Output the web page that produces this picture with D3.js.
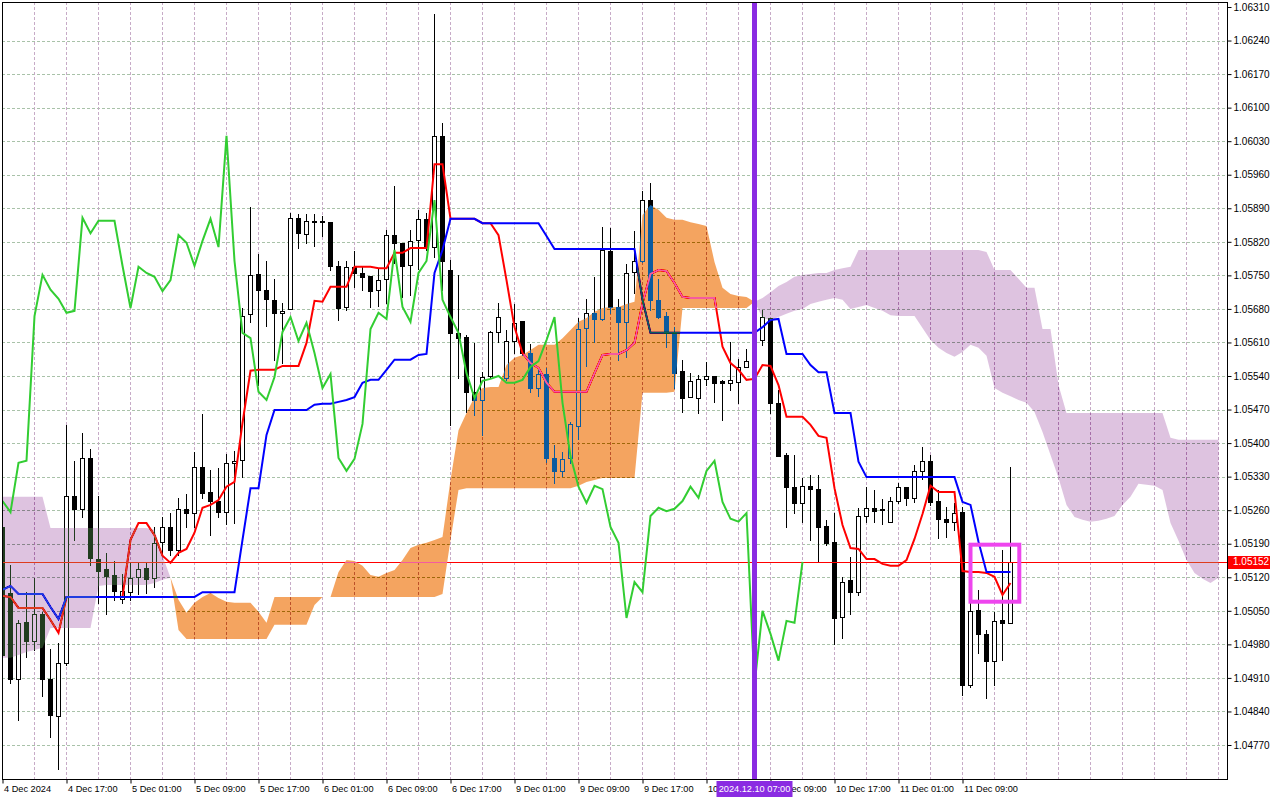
<!DOCTYPE html>
<html>
<head>
<meta charset="utf-8">
<script src="https://cdn.jsdelivr.net/npm/d3@7"></script>
<style>
  html, body { margin: 0; padding: 0; background: #fff; }
  svg { display: block; }
</style>
</head>
<body>
<div id="chart"></div>
<script>
// EURUSD H1 from 4 Dec 2024 09:00, one value per bar (127 bars)
const opens = [
  1.05225, 1.05087, 1.04908, 1.05027, 1.04987, 1.05044, 1.04908, 1.04831, 1.04941, 1.05290,
  1.05263, 1.05369, 1.05158, 1.05137, 1.05125, 1.05075, 1.05089, 1.05121, 1.05140, 1.05119,
  1.05194, 1.05225, 1.05177, 1.05263, 1.05254, 1.05350, 1.05298, 1.05279, 1.05256, 1.05359,
  1.05365, 1.05670, 1.05753, 1.05720, 1.05699, 1.05672, 1.05680, 1.05870, 1.05836, 1.05861,
  1.05861, 1.05861, 1.05770, 1.05684, 1.05768, 1.05755, 1.05749, 1.05720, 1.05743, 1.05834,
  1.05818, 1.05772, 1.05824, 1.05868, 1.05809, 1.06041, 1.05761, 1.05630, 1.05622, 1.05507,
  1.05490, 1.05540, 1.05632, 1.05536, 1.05613, 1.05655, 1.05588, 1.05515, 1.05544, 1.05369,
  1.05342, 1.05369, 1.05436, 1.05640, 1.05672, 1.05659, 1.05801, 1.05684, 1.05653, 1.05757,
  1.05780, 1.05907, 1.05699, 1.05665, 1.05632, 1.05551, 1.05496, 1.05494, 1.05534, 1.05540,
  1.05530, 1.05526, 1.05528, 1.05559, 1.05571, 1.05615, 1.05661, 1.05484, 1.05375, 1.05309,
  1.05275, 1.05311, 1.05304, 1.05227, 1.05194, 1.05037, 1.05115, 1.05089, 1.05248, 1.05265,
  1.05261, 1.05236, 1.05279, 1.05309, 1.05286, 1.05342, 1.05363, 1.05279, 1.05242, 1.05236,
  1.05256, 1.04895, 1.05052, 1.05002, 1.04946, 1.05031, 1.05025
];
const highs = [
  1.05236, 1.05146, 1.05031, 1.05089, 1.05119, 1.05048, 1.04971, 1.04983, 1.05438, 1.05363,
  1.05421, 1.05388, 1.05290, 1.05171, 1.05154, 1.05127, 1.05152, 1.05152, 1.05152, 1.05225,
  1.05246, 1.05254, 1.05286, 1.05294, 1.05382, 1.05461, 1.05344, 1.05348, 1.05377, 1.05384,
  1.05682, 1.05893, 1.05795, 1.05780, 1.05743, 1.05692, 1.05880, 1.05878, 1.05878, 1.05878,
  1.05874, 1.05861, 1.05780, 1.05780, 1.05801, 1.05768, 1.05749, 1.05765, 1.05845, 1.05937,
  1.05818, 1.05845, 1.05887, 1.05880, 1.06295, 1.06068, 1.05782, 1.05751, 1.05626, 1.05609,
  1.05548, 1.05634, 1.05692, 1.05636, 1.05690, 1.05655, 1.05607, 1.05559, 1.05557, 1.05396,
  1.05382, 1.05444, 1.05661, 1.05701, 1.05747, 1.05851, 1.05849, 1.05701, 1.05774, 1.05843,
  1.05926, 1.05943, 1.05743, 1.05674, 1.05642, 1.05574, 1.05546, 1.05542, 1.05569, 1.05540,
  1.05532, 1.05611, 1.05576, 1.05597, 1.05630, 1.05678, 1.05661, 1.05511, 1.05379, 1.05375,
  1.05327, 1.05334, 1.05334, 1.05240, 1.05254, 1.05121, 1.05163, 1.05265, 1.05309, 1.05302,
  1.05284, 1.05288, 1.05317, 1.05309, 1.05355, 1.05392, 1.05375, 1.05302, 1.05267, 1.05275,
  1.05267, 1.05094, 1.05094, 1.05010, 1.05048, 1.05177, 1.05350
];
const lows = [
  1.04906, 1.04900, 1.04822, 1.04954, 1.04968, 1.04873, 1.04787, 1.04720, 1.04937, 1.05198,
  1.05246, 1.05146, 1.05067, 1.05044, 1.05073, 1.05067, 1.05073, 1.05085, 1.05087, 1.05100,
  1.05171, 1.05167, 1.05167, 1.05225, 1.05225, 1.05286, 1.05208, 1.05246, 1.05231, 1.05233,
  1.05329, 1.05653, 1.05521, 1.05645, 1.05574, 1.05567, 1.05680, 1.05807, 1.05818, 1.05811,
  1.05832, 1.05761, 1.05657, 1.05678, 1.05726, 1.05720, 1.05684, 1.05686, 1.05692, 1.05776,
  1.05705, 1.05709, 1.05763, 1.05803, 1.05788, 1.05720, 1.05438, 1.05536, 1.05465, 1.05459,
  1.05417, 1.05536, 1.05611, 1.05532, 1.05588, 1.05584, 1.05507, 1.05498, 1.05361, 1.05317,
  1.05332, 1.05359, 1.05409, 1.05561, 1.05611, 1.05657, 1.05672, 1.05574, 1.05580, 1.05713,
  1.05778, 1.05678, 1.05661, 1.05601, 1.05515, 1.05465, 1.05496, 1.05463, 1.05521, 1.05486,
  1.05448, 1.05511, 1.05484, 1.05559, 1.05548, 1.05605, 1.05463, 1.05373, 1.05225, 1.05254,
  1.05236, 1.05198, 1.05152, 1.05188, 1.04981, 1.04994, 1.05044, 1.05083, 1.05236, 1.05236,
  1.05231, 1.05236, 1.05275, 1.05271, 1.05277, 1.05325, 1.05271, 1.05202, 1.05204, 1.05219,
  1.04875, 1.04891, 1.04962, 1.04868, 1.04895, 1.04948, 1.05025
];
const closes = [
  1.04958, 1.04908, 1.05025, 1.04987, 1.05044, 1.04908, 1.04833, 1.04941, 1.05290, 1.05263,
  1.05369, 1.05160, 1.05133, 1.05123, 1.05092, 1.05092, 1.05119, 1.05137, 1.05117, 1.05192,
  1.05225, 1.05177, 1.05263, 1.05254, 1.05350, 1.05296, 1.05279, 1.05256, 1.05359, 1.05363,
  1.05665, 1.05751, 1.05720, 1.05701, 1.05672, 1.05676, 1.05870, 1.05838, 1.05864, 1.05864,
  1.05864, 1.05770, 1.05682, 1.05768, 1.05755, 1.05747, 1.05717, 1.05740, 1.05834, 1.05818,
  1.05770, 1.05822, 1.05868, 1.05809, 1.06041, 1.05780, 1.05630, 1.05619, 1.05507, 1.05490,
  1.05538, 1.05632, 1.05663, 1.05613, 1.05651, 1.05588, 1.05515, 1.05544, 1.05369, 1.05342,
  1.05367, 1.05440, 1.05638, 1.05672, 1.05659, 1.05803, 1.05684, 1.05653, 1.05755, 1.05780,
  1.05907, 1.05699, 1.05663, 1.05630, 1.05546, 1.05494, 1.05530, 1.05534, 1.05540, 1.05526,
  1.05526, 1.05532, 1.05559, 1.05571, 1.05615, 1.05663, 1.05484, 1.05373, 1.05309, 1.05275,
  1.05311, 1.05304, 1.05225, 1.05192, 1.05035, 1.05110, 1.05089, 1.05248, 1.05265, 1.05258,
  1.05263, 1.05279, 1.05309, 1.05286, 1.05342, 1.05363, 1.05277, 1.05242, 1.05236, 1.05254,
  1.04895, 1.05050, 1.05002, 1.04946, 1.05029, 1.05025, 1.05152
];

// Ichimoku lines
const tenkan = [
  1.05081, 1.05079, 1.05056, 1.05056, 1.05056, 1.05056, 1.05031, 1.05004, 1.05079, 1.05079,
  1.05079, 1.05079, 1.05079, 1.05079, 1.05079, 1.05079, 1.05198, 1.05233, 1.05233, 1.05208,
  1.05165, 1.05150, 1.05171, 1.05179, 1.05213, 1.05265, 1.05271, 1.05281, 1.05309, 1.05319,
  1.05442, 1.05551, 1.05553, 1.05553, 1.05553, 1.05561, 1.05561, 1.05561, 1.05609, 1.05697,
  1.05695, 1.05726, 1.05726, 1.05726, 1.05768, 1.05768, 1.05768, 1.05765, 1.05765, 1.05797,
  1.05797, 1.05807, 1.05807, 1.05807, 1.05982, 1.05982, 1.05868, 1.05868, 1.05868, 1.05868,
  1.05859, 1.05859, 1.05834, 1.05740, 1.05642, 1.05588, 1.05567, 1.05557, 1.05526, 1.05507,
  1.05507, 1.05507, 1.05507, 1.05507, 1.05546, 1.05584, 1.05586, 1.05586, 1.05594, 1.05609,
  1.05692, 1.05753, 1.05761, 1.05759, 1.05734, 1.05705, 1.05703, 1.05703, 1.05703, 1.05703,
  1.05601, 1.05567, 1.05553, 1.05532, 1.05534, 1.05563, 1.05561, 1.05521, 1.05455, 1.05455,
  1.05455, 1.05438, 1.05415, 1.05411, 1.05306, 1.05229, 1.05181, 1.05179, 1.05158, 1.05158,
  1.05148, 1.05144, 1.05144, 1.05156, 1.05200, 1.05252, 1.05311, 1.05298, 1.05298, 1.05298,
  1.05133, 1.05131, 1.05131, 1.05129, 1.05121, 1.05083, 1.05108
];
const kijun = [
  1.05094, 1.05102, 1.05085, 1.05085, 1.05085, 1.05085, 1.05058, 1.05033, 1.05079, 1.05079,
  1.05079, 1.05079, 1.05079, 1.05079, 1.05079, 1.05079, 1.05079, 1.05079, 1.05079, 1.05079,
  1.05079, 1.05079, 1.05079, 1.05079, 1.05079, 1.05089, 1.05089, 1.05089, 1.05089, 1.05089,
  1.05198, 1.05306, 1.05306, 1.05417, 1.05469, 1.05469, 1.05469, 1.05469, 1.05469, 1.05480,
  1.05482, 1.05482, 1.05486, 1.05490, 1.05496, 1.05526, 1.05532, 1.05532, 1.05553, 1.05574,
  1.05574, 1.05574, 1.05584, 1.05586, 1.05755, 1.05803, 1.05868, 1.05868, 1.05868, 1.05868,
  1.05859, 1.05859, 1.05859, 1.05859, 1.05859, 1.05859, 1.05859, 1.05859, 1.05832, 1.05805,
  1.05805, 1.05805, 1.05805, 1.05805, 1.05805, 1.05805, 1.05805, 1.05805, 1.05805, 1.05805,
  1.05699, 1.05630, 1.05630, 1.05630, 1.05630, 1.05630, 1.05630, 1.05630, 1.05630, 1.05630,
  1.05630, 1.05630, 1.05630, 1.05630, 1.05630, 1.05642, 1.05657, 1.05659, 1.05586, 1.05586,
  1.05586, 1.05563, 1.05548, 1.05548, 1.05463, 1.05463, 1.05463, 1.05361, 1.05329, 1.05329,
  1.05329, 1.05329, 1.05329, 1.05329, 1.05329, 1.05329, 1.05329, 1.05329, 1.05329, 1.05329,
  1.05277, 1.05271, 1.05194, 1.05131, 1.05131, 1.05131, 1.05131
];
// senkou spans, already shifted 26 bars ahead (153 values)
const spanA = [
  1.04952, 1.04952, 1.04958, 1.04964, 1.04968, 1.04973, 1.05014, 1.05014, 1.05014, 1.05014,
  1.05014, 1.05014, 1.05102, 1.05104, 1.05104, 1.05104, 1.05104, 1.05104, 1.05104, 1.05108,
  1.05115, 1.05119, 1.05073, 1.05046, 1.05067, 1.05079, 1.05087, 1.05077, 1.05069, 1.05067,
  1.05067, 1.05067, 1.05048, 1.05025, 1.05079, 1.05079, 1.05079, 1.05079, 1.05079, 1.05079,
  1.05079, 1.05079, 1.05131, 1.05156, 1.05154, 1.05144, 1.05125, 1.05121, 1.05129, 1.05135,
  1.05156, 1.05181, 1.05188, 1.05192, 1.05198, 1.05204, 1.05323, 1.05427, 1.05463, 1.05496,
  1.05515, 1.05517, 1.05517, 1.05563, 1.05578, 1.05584, 1.05594, 1.05605, 1.05605, 1.05605,
  1.05619, 1.05636, 1.05653, 1.05661, 1.05674, 1.05682, 1.05684, 1.05684, 1.05690, 1.05695,
  1.05876, 1.05897, 1.05887, 1.05870, 1.05866, 1.05866, 1.05861, 1.05857, 1.05853, 1.05778,
  1.05724, 1.05711, 1.05707, 1.05705, 1.05695, 1.05661, 1.05657, 1.05663, 1.05670, 1.05676,
  1.05680, 1.05690, 1.05695, 1.05699, 1.05703, 1.05699, 1.05680, 1.05684, 1.05688, 1.05682,
  1.05676, 1.05667, 1.05665, 1.05665, 1.05665, 1.05640, 1.05615, 1.05599, 1.05588, 1.05580,
  1.05590, 1.05605, 1.05599, 1.05582, 1.05515, 1.05505, 1.05498, 1.05490, 1.05484, 1.05465,
  1.05423, 1.05375, 1.05327, 1.05271, 1.05246, 1.05240, 1.05236, 1.05238, 1.05242, 1.05248,
  1.05271, 1.05288, 1.05315, 1.05313, 1.05311, 1.05302, 1.05233, 1.05196, 1.05156, 1.05129,
  1.05117, 1.05108, 1.05119
];
const spanB = [
  1.05288, 1.05288, 1.05288, 1.05288, 1.05288, 1.05288, 1.05223, 1.05223, 1.05223, 1.05223,
  1.05223, 1.05223, 1.05223, 1.05223, 1.05223, 1.05223, 1.05223, 1.05223, 1.05223, 1.05219,
  1.05165, 1.05119, 1.05010, 1.04991, 1.04991, 1.04991, 1.04991, 1.04991, 1.04991, 1.04991,
  1.04991, 1.04991, 1.04991, 1.04991, 1.05021, 1.05021, 1.05021, 1.05021, 1.05021, 1.05062,
  1.05079, 1.05079, 1.05079, 1.05079, 1.05079, 1.05079, 1.05079, 1.05079, 1.05079, 1.05079,
  1.05079, 1.05079, 1.05079, 1.05079, 1.05079, 1.05085, 1.05198, 1.05302, 1.05306, 1.05306,
  1.05306, 1.05306, 1.05306, 1.05306, 1.05306, 1.05306, 1.05306, 1.05306, 1.05306, 1.05306,
  1.05306, 1.05306, 1.05311, 1.05319, 1.05323, 1.05327, 1.05327, 1.05327, 1.05327, 1.05327,
  1.05505, 1.05505, 1.05505, 1.05505, 1.05507, 1.05682, 1.05682, 1.05682, 1.05682, 1.05682,
  1.05682, 1.05682, 1.05682, 1.05682, 1.05695, 1.05703, 1.05715, 1.05728, 1.05736, 1.05747,
  1.05751, 1.05753, 1.05755, 1.05755, 1.05761, 1.05765, 1.05768, 1.05803, 1.05803, 1.05803,
  1.05803, 1.05803, 1.05803, 1.05803, 1.05803, 1.05803, 1.05803, 1.05803, 1.05803, 1.05803,
  1.05803, 1.05803, 1.05803, 1.05799, 1.05761, 1.05761, 1.05761, 1.05743, 1.05724, 1.05724,
  1.05638, 1.05638, 1.05521, 1.05463, 1.05463, 1.05463, 1.05463, 1.05463, 1.05463, 1.05463,
  1.05463, 1.05463, 1.05463, 1.05463, 1.05463, 1.05463, 1.05411, 1.05407, 1.05407, 1.05407,
  1.05407, 1.05407, 1.05407
];

const priceTicks = ["1.04770", "1.04840", "1.04910", "1.04980", "1.05050", "1.05120", "1.05190",
  "1.05260", "1.05330", "1.05400", "1.05470", "1.05540", "1.05610", "1.05680", "1.05750",
  "1.05820", "1.05890", "1.05960", "1.06030", "1.06100", "1.06170", "1.06240", "1.06310"];
const timeLabels = ["4 Dec 2024", "4 Dec 17:00", "5 Dec 01:00", "5 Dec 09:00", "5 Dec 17:00",
  "6 Dec 01:00", "6 Dec 09:00", "6 Dec 17:00", "9 Dec 01:00", "9 Dec 09:00", "9 Dec 17:00",
  "10 Dec 01:00", "10 Dec 09:00", "10 Dec 17:00", "11 Dec 01:00", "11 Dec 09:00"];
const timeLabelBars = [0, 8, 16, 24, 32, 40, 48, 56, 64, 72, 80, 88, 96, 104, 112, 120];
const lastPrice = 1.05152;
const markerBar = 94;
const markerText = "2024.12.10 07:00";
const boxBars = [121, 127.1];
const boxPrices = [1.05188, 1.05069];

const W = 1280, H = 800;
const plot = {left: 2, top: 2, right: 1227, bottom: 779};
const font = "'Liberation Sans', Arial, sans-serif";

const x = d3.scaleLinear().domain([0, 152]).range([2.5, 2.5 + 8 * 152]);
const y = d3.scaleLinear().domain([1.04770, 1.06310]).range([745, 7]);

const svg = d3.select("#chart").append("svg")
    .attr("width", W)
    .attr("height", H);

svg.append("rect").attr("width", W).attr("height", H).attr("fill", "#fff");

svg.append("defs").append("clipPath").attr("id", "plot-clip")
  .append("rect")
    .attr("x", plot.left).attr("y", plot.top)
    .attr("width", plot.right - plot.left).attr("height", plot.bottom - plot.top);

const g = svg.append("g").attr("clip-path", "url(#plot-clip)");
// white inside the group too, the cloud blends against it
g.append("rect").attr("width", W).attr("height", H).attr("fill", "#fff");

// grid
g.selectAll("line.hgrid")
  .data(priceTicks.slice(0, -1))
  .join("line")
    .attr("class", "hgrid")
    .attr("x1", plot.left).attr("x2", plot.right)
    .attr("y1", d => Math.round(y(+d)) + 0.5)
    .attr("y2", d => Math.round(y(+d)) + 0.5)
    .attr("stroke", "#a9c2a9")
    .attr("stroke-dasharray", "3,2");

g.selectAll("line.vgrid")
  .data(d3.range(4, 153, 4))
  .join("line")
    .attr("class", "vgrid")
    .attr("x1", d => x(d)).attr("x2", d => x(d))
    .attr("y1", plot.top).attr("y2", plot.bottom)
    .attr("stroke", "#c7abc7")
    .attr("stroke-dasharray", "3,2");

// candles
const bars = opens.map((o, i) => ({i, o, h: highs[i], l: lows[i], c: closes[i]}));
const candles = g.append("g").attr("shape-rendering", "crispEdges");

candles.selectAll("line")
  .data(bars)
  .join("line")
    .attr("x1", d => x(d.i)).attr("x2", d => x(d.i))
    .attr("y1", d => Math.round(y(d.h)))
    .attr("y2", d => Math.round(y(d.l)) + 1)
    .attr("stroke", "#000");

candles.selectAll("rect")
  .data(bars)
  .join("rect")
    .attr("x", d => x(d.i) - 2)
    .attr("width", 4)
    .attr("y", d => Math.round(y(Math.max(d.o, d.c))) + 0.5)
    .attr("height", d => Math.max(1, Math.round(y(Math.min(d.o, d.c))) - Math.round(y(Math.max(d.o, d.c)))))
    .attr("fill", d => d.c >= d.o ? "#fff" : "#000")
    .attr("stroke", "#000");

// last price line
g.append("line")
  .attr("x1", plot.left).attr("x2", plot.right)
  .attr("y1", Math.round(y(lastPrice)) + 0.5).attr("y2", Math.round(y(lastPrice)) + 0.5)
  .attr("stroke", "#ff0000");

// tenkan and kijun
const line = d3.line().x((d, i) => x(i)).y(d => y(d));
g.append("path").attr("d", line(tenkan))
  .attr("fill", "none").attr("stroke", "#ff0000").attr("stroke-width", 2);
g.append("path").attr("d", line(kijun))
  .attr("fill", "none").attr("stroke", "#0000ff").attr("stroke-width", 2);

// kumo: MT4 draws it inverted over the bars, so fill with the complement
// of sandybrown / thistle and blend with "difference"
const cloud = spanA.map((a, i) => ({i, a, b: spanB[i]}));
const bullArea = d3.area()
  .x(d => x(d.i))
  .y0(d => y(d.b))
  .y1(d => y(Math.max(d.a, d.b)));
const bearArea = d3.area()
  .x(d => x(d.i))
  .y0(d => y(d.a))
  .y1(d => y(Math.max(d.a, d.b)));

g.append("path").attr("d", bullArea(cloud))
  .attr("fill", "rgb(11,91,159)")
  .style("mix-blend-mode", "difference");
g.append("path").attr("d", bearArea(cloud))
  .attr("fill", "rgb(33,60,31)")
  .style("mix-blend-mode", "difference");

// chikou = closes drawn 26 bars back
const chikou = closes.slice(26);
g.append("path").attr("d", line(chikou))
  .attr("fill", "none").attr("stroke", "#32cd32").attr("stroke-width", 2);

// marker line and box
g.append("line")
  .attr("x1", x(markerBar)).attr("x2", x(markerBar))
  .attr("y1", plot.top).attr("y2", plot.bottom)
  .attr("stroke", "#8a2be2").attr("stroke-width", 5);

g.append("rect")
  .attr("x", x(boxBars[0]))
  .attr("y", y(boxPrices[0]))
  .attr("width", x(boxBars[1]) - x(boxBars[0]))
  .attr("height", y(boxPrices[1]) - y(boxPrices[0]))
  .attr("fill", "none")
  .attr("stroke", "#ee45ee")
  .attr("stroke-width", 4);

// frame
svg.append("rect")
  .attr("x", plot.left + 0.5).attr("y", plot.top + 0.5)
  .attr("width", plot.right - plot.left).attr("height", plot.bottom - plot.top)
  .attr("fill", "none").attr("stroke", "#000")
  .attr("shape-rendering", "crispEdges");

// price axis
const yAxis = svg.append("g")
  .attr("transform", `translate(${plot.right + 0.5},0)`)
  .call(d3.axisRight(y)
    .tickValues(priceTicks.map(Number))
    .tickFormat((d, i) => priceTicks[i])
    .tickSize(4)
    .tickPadding(2));
yAxis.select(".domain").remove();
yAxis.selectAll("text").attr("font-family", font).attr("font-size", 10).attr("fill", "#000");
yAxis.selectAll("line").attr("stroke", "#000");

// time axis
const xAxis = svg.append("g")
  .attr("transform", `translate(0,${plot.bottom + 0.5})`)
  .call(d3.axisBottom(x)
    .tickValues(timeLabelBars)
    .tickFormat((d, i) => timeLabels[i])
    .tickSize(4)
    .tickPadding(2));
xAxis.select(".domain").remove();
xAxis.selectAll("text")
  .attr("font-family", font).attr("font-size", 9.2).attr("fill", "#000")
  .attr("text-anchor", "start").attr("x", 1);
xAxis.selectAll("line").attr("stroke", "#000");

// last price tag
const py = Math.round(y(lastPrice));
svg.append("rect")
  .attr("x", plot.right + 1).attr("y", py - 6)
  .attr("width", 42).attr("height", 13)
  .attr("fill", "#ff0000");
svg.append("text")
  .attr("x", plot.right + 6).attr("y", py + 0.5)
  .attr("dominant-baseline", "middle")
  .attr("font-family", font).attr("font-size", 10).attr("fill", "#fff")
  .text(lastPrice.toFixed(5));

// marker time tag, laid over the time labels as in the terminal
svg.append("rect")
  .attr("x", x(markerBar) - 38).attr("y", plot.bottom + 2)
  .attr("width", 76).attr("height", 16)
  .attr("fill", "#8a2be2");
svg.append("text")
  .attr("x", x(markerBar)).attr("y", plot.bottom + 10.5)
  .attr("text-anchor", "middle").attr("dominant-baseline", "middle")
  .attr("font-family", font).attr("font-size", 9.2).attr("fill", "#fff")
  .text(markerText);
</script>
</body>
</html>
